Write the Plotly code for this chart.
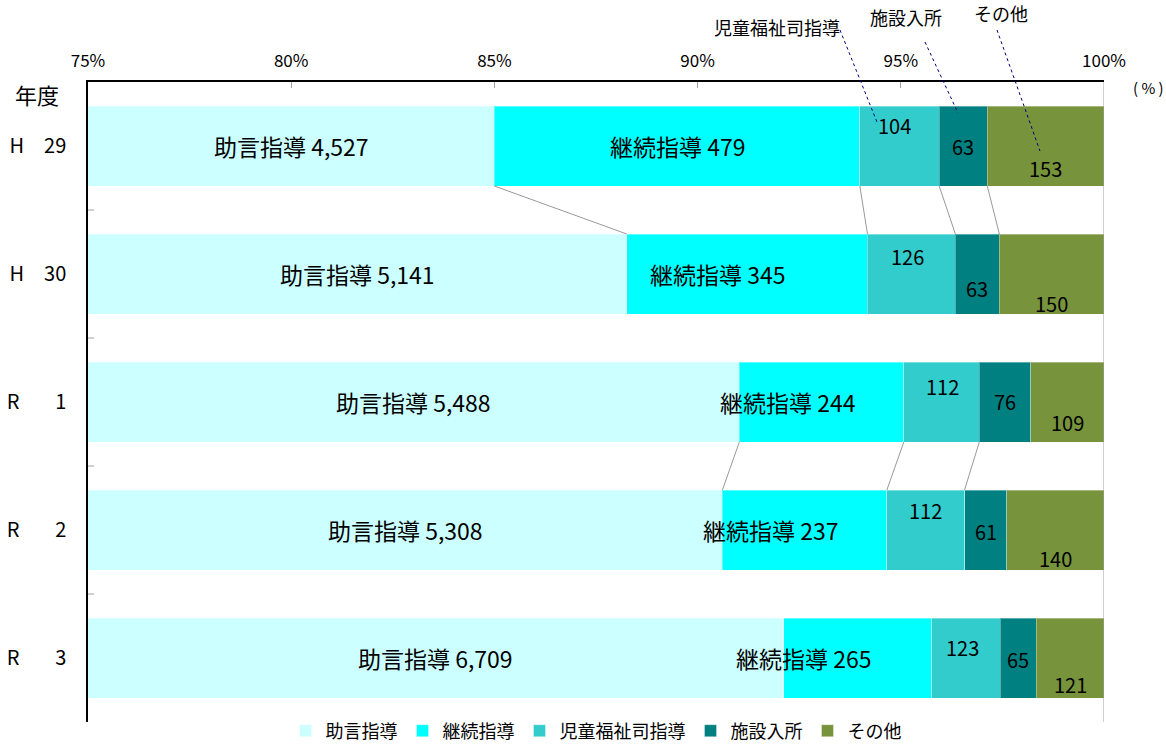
import plotly.graph_objects as go
import numpy as np

years = ["H　29", "H　30", "R　\u2007 1", "R　\u2007 2", "R　\u2007 3"]
series = ["助言指導", "継続指導", "児童福祉司指導", "施設入所", "その他"]
jogen = [4527, 5141, 5488, 5308, 6709]
keizoku = [479, 345, 244, 237, 265]
jidou = [104, 126, 112, 112, 123]
shisetsu = [63, 63, 76, 61, 65]
sonota = [153, 150, 109, 140, 121]
xticks = [75, 80, 85, 90, 95, 100]
colors = ["#CCFFFF", "#00FFFF", "#33CCCC", "#008080", "#77933C"]

vals = np.array([jogen, keizoku, jidou, shisetsu, sonota], dtype=float)
pct = vals / vals.sum(axis=0) * 100
cum = np.cumsum(pct, axis=0)
ypos = np.arange(len(years))
BW = 0.625
XMIN, XMAX = 75, 100

FONT = "Noto Sans CJK JP"
fig = go.Figure()
for i, name in enumerate(series):
    fig.add_trace(go.Bar(
        y=ypos, x=pct[i], name=name, orientation="h", width=BW,
        marker=dict(color=colors[i], line=dict(color="rgba(255,255,255,0.35)", width=1)),
        hoverinfo="skip",
    ))

# series lines (only drawn between H29-H30 and R1-R2 in the original)
line_pairs = [(0, 4), (2, 3)]
for r, n in line_pairs:
    for k in range(n):
        fig.add_trace(go.Scatter(
            x=[cum[k, r], cum[k, r + 1]], y=[r + BW / 2, r + 1 - BW / 2],
            mode="lines", line=dict(color="#999999", width=1),
            showlegend=False, hoverinfo="skip"))

# label offsets (pixels): [series][row]
xshift = [
    [0, 0, 0, 0, 0],
    [0, -30, -34, -34, -54],
    [-5, -4, 1, 0, -3],
    [0, 0, 0, 0, 0],
    [0, 0, 0, 0, 0],
]
yshift = [
    [0, 0, 0, 0, 0],
    [0, 0, 0, 0, 0],
    [21, 18, 16, 20, 11],
    [0, -14, 1, -1, -1],
    [-22, -29, -20, -28, -26],
]
annotations = []
for i in range(len(series)):
    for r in range(len(years)):
        left = max(cum[i, r] - pct[i, r], XMIN)
        mid = (left + cum[i, r]) / 2
        if i < 2:
            txt = f"{series[i]} {int(vals[i, r]):,}"
            size = 23
        else:
            txt = f"{int(vals[i, r]):,}"
            size = 20
        annotations.append(dict(
            x=mid, y=r, xref="x", yref="y", text=txt, showarrow=False,
            xshift=xshift[i][r], yshift=yshift[i][r],
            font=dict(family=FONT, size=size, color="black")))

# callout labels for H29 small segments (paper coords)
callouts = [("児童福祉司指導", (777 - 88) / 1016, (722 - 27) / 640),
            ("施設入所", (906 - 88) / 1016, (722 - 17) / 640),
            ("その他", (1001 - 88) / 1016, (722 - 13) / 640)]
for t, px, py in callouts:
    annotations.append(dict(x=px, y=py, xref="paper", yref="paper", text=t,
                            xanchor="center", yanchor="middle",
                            showarrow=False, font=dict(family=FONT, size=18, color="black")))
annotations.append(dict(x=-75 / 1016, y=1.0 - 12 / 640, xref="paper", yref="paper", text="年度",
                        showarrow=False, xanchor="left", yanchor="middle",
                        font=dict(family=FONT, size=22, color="black")))
annotations.append(dict(x=(1148 - 88) / 1016, y=1.0 - 5 / 640, xref="paper", yref="paper",
                        text="( % )", showarrow=False, xanchor="center", yanchor="middle",
                        font=dict(family=FONT, size=15, color="black")))

def px2paper(px, py):
    return (px - 88) / 1016, (722 - py) / 640

shapes = []
for (x0, y0), (x1, y1) in [((840, 30), (877, 122)), ((925, 42), (958, 113)), ((997, 30), (1040, 151))]:
    a0, b0 = px2paper(x0, y0)
    a1, b1 = px2paper(x1, y1)
    shapes.append(dict(type="line", xref="paper", yref="paper", x0=a0, y0=b0, x1=a1, y1=b1,
                       line=dict(color="#000080", width=1, dash="dot")))
shapes.append(dict(type="line", xref="x", yref="paper", x0=XMAX, x1=XMAX, y0=0, y1=1,
                   line=dict(color="#A0A0A0", width=1)))
# minor ticks at category boundaries on y axis
for b in np.arange(0.5, len(years) - 0.5, 1.0):
    shapes.append(dict(type="line", xref="paper", yref="y", x0=0, x1=6 / 1016, y0=b, y1=b,
                       line=dict(color="#A0A0A0", width=1)))

fig.update_layout(
    barmode="stack",
    width=1166, height=745,
    margin=dict(l=88, r=62, t=82, b=23, autoexpand=False),
    plot_bgcolor="white", paper_bgcolor="white",
    font=dict(family=FONT, color="black"),
    xaxis=dict(side="top", range=[XMIN, XMAX], tickvals=xticks,
               ticktext=[f"{v}%" for v in xticks], showgrid=False, zeroline=False,
               showline=True, linecolor="black", linewidth=1.5, automargin=False,
               ticks="inside", ticklen=6, tickcolor="#A0A0A0", ticklabelstandoff=6,
               tickfont=dict(family=FONT, size=17, color="black")),
    yaxis=dict(range=[len(years) - 0.5, -0.5], tickvals=list(ypos), ticktext=years,
               showgrid=False, zeroline=False, showline=True, linecolor="black", linewidth=1.5,
               ticks="", ticklabelstandoff=16, automargin=False,
               tickfont=dict(family=FONT, size=20, color="black")),
    showlegend=True,
    legend=dict(orientation="h", x=0.5, xanchor="center", y=-9 / 640, yanchor="middle",
                font=dict(family=FONT, size=18, color="black"), traceorder="normal",
                itemwidth=30, tracegroupgap=0, bgcolor="rgba(0,0,0,0)"),
    annotations=annotations,
    shapes=shapes,
)

fig.write_html("out.html", config={"displayModeBar": False},
               post_script="document.body.style.margin='0';document.body.style.overflow='hidden';")
